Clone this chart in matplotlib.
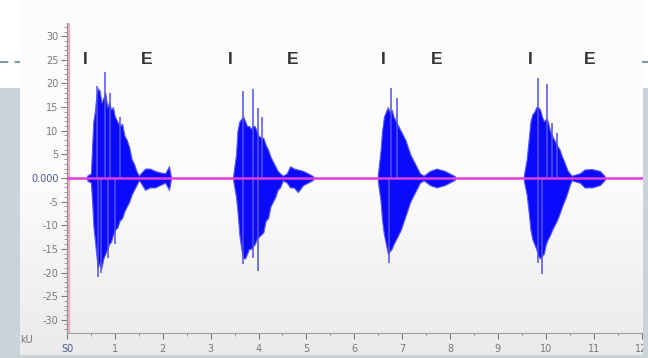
import matplotlib.pyplot as plt
import numpy as np
from matplotlib.patches import Rectangle
from matplotlib.ticker import MultipleLocator

# syllable envelopes: time (s), upper and lower amplitude
b1_t  = [0.42, 0.50, 0.53, 0.55, 0.58, 0.61, 0.64, 0.68, 0.72, 0.76, 0.80, 0.84, 0.88, 0.92, 0.96, 1.00,
         1.05, 1.10, 1.15, 1.20, 1.25, 1.30, 1.35, 1.40, 1.45, 1.50,
         1.54, 1.63, 1.73, 1.84, 1.94, 2.05, 2.13, 2.17]
b1_hi = [0.5, 1.0, 8, 12, 14, 17, 19, 18.5, 16, 17, 18, 15, 16, 14.5, 15, 13,
         12, 11, 11.5, 9, 8, 6.5, 4, 3, 1.5, 0.5,
         1.0, 2.0, 2.0, 1.5, 1.2, 1.0, 2.5, 0.3]
b1_lo = [-0.5, -1.0, -6, -10, -13, -16, -19, -18, -19, -17, -16, -15, -14, -13.5, -12, -11,
         -10.5, -9, -8.5, -7, -6, -5, -3.5, -2.5, -1.5, -0.5,
         -1.0, -2.5, -2.0, -2.0, -1.5, -1.0, -2.5, -0.3]

b2_t  = [3.47, 3.53, 3.56, 3.60, 3.64, 3.68, 3.72, 3.76, 3.80, 3.84, 3.88, 3.92, 3.96, 4.00, 4.05, 4.10,
         4.15, 4.20, 4.25, 4.30, 4.35, 4.40, 4.45, 4.51,
         4.59, 4.66, 4.74, 4.82, 4.93, 5.03, 5.14]
b2_hi = [0.5, 5, 10, 12, 12.5, 13, 12, 11, 11, 10.5, 11, 11, 10, 9, 8.5, 8.5,
         7, 6, 4.5, 3.5, 2.5, 1.5, 1.0, 0.5,
         1.0, 2.5, 2.0, 1.8, 1.5, 1.0, 0.4]
b2_lo = [-0.5, -4, -7, -12, -15, -17, -17, -16, -15, -15, -14.5, -14, -13, -12.5, -12, -11.5,
         -9, -8.5, -6, -5, -4, -2.5, -2.0, -0.5,
         -1.0, -2.0, -2.0, -3.0, -1.5, -1.0, -0.4]

b3_t  = [6.49, 6.55, 6.58, 6.62, 6.66, 6.70, 6.74, 6.78, 6.82, 6.87, 6.92, 6.97, 7.02, 7.07, 7.12,
         7.17, 7.22, 7.27, 7.32, 7.37,
         7.45, 7.58, 7.72, 7.89, 8.10]
b3_hi = [0.5, 6, 10, 13, 14, 15, 14, 14.5, 13, 12, 11, 10, 9, 8, 6.5,
         5, 4, 3, 2, 1,
         0.5, 1.5, 2.0, 1.5, 0.4]
b3_lo = [-0.5, -5, -9, -12, -14, -16, -15.5, -15, -14, -13, -12, -11, -9.5, -8, -6.5,
         -5, -4, -3, -2, -1,
         -0.5, -1.5, -2.0, -1.5, -0.4]

b4_t  = [9.54, 9.60, 9.64, 9.68, 9.72, 9.76, 9.80, 9.84, 9.88, 9.92, 9.96, 10.00, 10.04, 10.09, 10.13,
         10.18, 10.23, 10.29, 10.34, 10.38, 10.42, 10.46, 10.50, 10.54,
         10.71, 10.81, 10.96, 11.13, 11.23]
b4_hi = [0.5, 4, 8, 12, 13.5, 14, 15, 15, 14.5, 13, 12, 12.5, 12, 10, 9,
         8, 7, 6, 4.5, 3.6, 2.5, 1.5, 1.0, 0.5,
         1.0, 1.8, 1.9, 1.5, 0.4]
b4_lo = [-0.5, -3.5, -7, -11, -13, -14, -15, -16.5, -17, -16.5, -16, -14, -13, -12, -11,
         -10, -9, -7.5, -6, -5, -4, -2.8, -1.5, -0.5,
         -1.0, -2.0, -2.0, -1.5, -0.4]

# isolated peaks sticking out of the envelopes
spike_t = [0.63, 0.80, 0.90, 1.11, 3.68, 3.89, 3.99, 4.07, 6.76, 6.90, 9.83, 10.02, 10.12, 10.23]
spike_v = [19.5, 22.5, 18.0, 13.0, 18.4, 18.9, 14.8, 13.0, 19.0, 17.0, 21.2, 19.9, 11.7, 9.5]
dip_t = [0.65, 0.72, 0.85, 1.00, 3.68, 3.89, 3.99, 6.72, 9.83, 9.92]
dip_v = [-21.0, -20.0, -17.0, -14.0, -18.2, -17.0, -19.7, -18.0, -18.0, -20.3]

# phase labels above the bursts
mark_txt = ['I', 'E', 'I', 'E', 'I', 'E', 'I', 'E']
mark_t = [0.38, 1.67, 3.40, 4.72, 6.60, 7.72, 9.67, 10.92]
mark_y = 25

y_ticks = [30, 25, 20, 15, 10, 5, 0, -5, -10, -15, -20, -25, -30]
y_labels = ['30', '25', '20', '15', '10', '5', '0.000', '-5', '-10', '-15', '-20', '-25', '-30']
x_ticks = list(range(13))
x_labels = ['S0'] + [str(i) for i in range(1, 13)]

W, H = 648, 358
fig = plt.figure(figsize=(W / 100, H / 100), dpi=100)
fig.patch.set_facecolor('white')

slide = '#c9d3d8'
dash = '#7f9ca4'

# background: slide plus the captured window, white on top fading to grey below
bg = fig.add_axes([0, 0, 1, 1], zorder=0)
bg.set_xlim(0, W)
bg.set_ylim(H, 0)
bg.axis('off')
s = np.linspace(0, 1, 256)
grad = np.where(s < 0.5, 0.99, 0.99 - (s - 0.5) * 0.14)[:, None]
bg.imshow(np.dstack([grad, grad, grad]), extent=[20, 643, 355, 0], aspect='auto')
bg.plot([0, 20], [62, 62], ls=(0, (4, 3)), color=dash, lw=1.5)
bg.plot([643, 648], [62, 62], color=dash, lw=1.5)

ax = fig.add_axes([67 / W, (H - 333) / H, 576 / W, 310 / H], zorder=1)
ax.set_facecolor('none')
ax.set_xlim(0, 12.03)
ax.set_ylim(-32.8, 32.8)

blue = '#0a0aff'
for t, hi, lo in [(b1_t, b1_hi, b1_lo), (b2_t, b2_hi, b2_lo), (b3_t, b3_hi, b3_lo), (b4_t, b4_hi, b4_lo)]:
    ax.fill_between(t, lo, hi, facecolor=blue, lw=0.8, edgecolor='#5a5af0')
ax.vlines(spike_t, 0, spike_v, color='#5050e6', lw=1.1)
ax.vlines(dip_t, dip_v, 0, color='#5050e6', lw=1.1)

ax.axhline(0, color='#e33ae0', lw=1.8, zorder=5)
ax.axvline(0.04, color='#f0a8c0', lw=1.6, zorder=4)

for txt, t in zip(mark_txt, mark_t):
    ax.text(t, mark_y, txt, ha='center', va='center', fontsize=12.5, fontweight='bold',
            color='#333333', family='Liberation Sans')

for side in ['top', 'right']:
    ax.spines[side].set_visible(False)
ax.spines['left'].set_color('#8a8a8a')
ax.spines['bottom'].set_color('#a0a0a0')

ax.set_yticks(y_ticks)
ax.set_yticklabels(y_labels)
ax.yaxis.set_minor_locator(MultipleLocator(1))
ax.set_xticks(x_ticks)
ax.set_xticklabels(x_labels)
ax.xaxis.set_minor_locator(MultipleLocator(0.5))
ax.tick_params(axis='both', which='major', labelsize=7, colors='#7a7a7a', length=4, width=0.8, pad=2)
ax.tick_params(axis='both', which='minor', colors='#8a8a8a', length=2, width=0.6)
ax.tick_params(axis='x', which='major', pad=4)
for lbl in ax.get_yticklabels():
    if lbl.get_text() == '0.000':
        lbl.set_color('#4a5a9a')
ax.get_xticklabels()[0].set_color('#4a5a9a')

# grey slide margins lying over the captured window
over = fig.add_axes([0, 0, 1, 1], zorder=3)
over.set_xlim(0, W)
over.set_ylim(H, 0)
over.axis('off')
over.patch.set_visible(False)
over.text(33, 340, 'kU', ha='right', va='center', fontsize=7, color='#7a7a7a')
over.add_patch(Rectangle((0, 88), 20, H - 88, color=slide, lw=0))
over.add_patch(Rectangle((643, 88), 5, H - 88, color=slide, lw=0))
over.add_patch(Rectangle((0, 355), W, 3, color=slide, lw=0))

fig.savefig('out.png', dpi=100)
